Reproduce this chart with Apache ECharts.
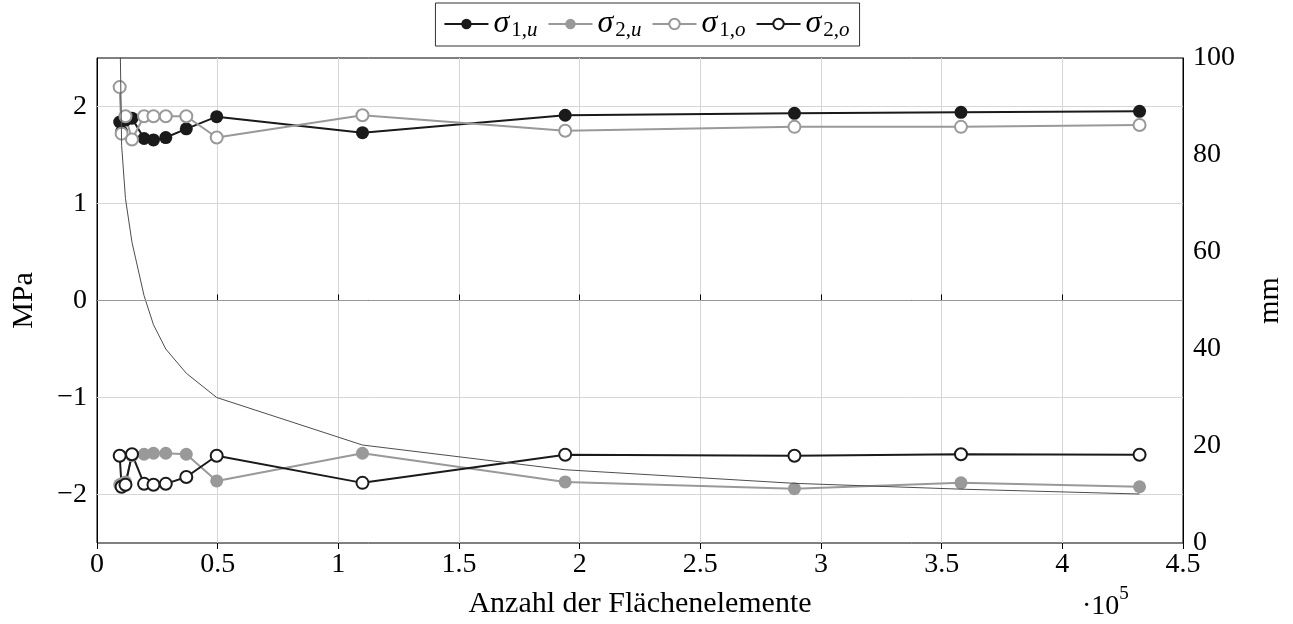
<!DOCTYPE html>
<html>
<head>
<meta charset="utf-8">
<script src="https://cdn.jsdelivr.net/npm/echarts@6/dist/echarts.min.js"></script>
<style>
  html, body { margin: 0; padding: 0; background: #fff; }
  #chart { width: 1293px; height: 624px; }
</style>
</head>
<body>
<div id="chart"></div>
<script>
// Anzahl der Flächenelemente (x 10^5)
const xVals = [0.094, 0.102, 0.118, 0.145, 0.195, 0.234, 0.285, 0.37, 0.496, 1.10, 1.94, 2.89, 3.58, 4.32];
// Spannungen in MPa
const s1u = [1.84, 1.74, 1.86, 1.88, 1.67, 1.655, 1.68, 1.77, 1.895, 1.73, 1.91, 1.93, 1.94, 1.95];
const s2u = [-1.90, -1.89, -1.87, -1.60, -1.585, -1.575, -1.575, -1.585, -1.86, -1.575, -1.87, -1.94, -1.88, -1.92];
const s1o = [2.20, 1.72, 1.90, 1.66, 1.90, 1.90, 1.90, 1.90, 1.68, 1.91, 1.75, 1.79, 1.79, 1.81];
const s2o = [-1.60, -1.92, -1.90, -1.585, -1.89, -1.90, -1.89, -1.82, -1.60, -1.88, -1.59, -1.60, -1.585, -1.59];
// Verschiebung in mm (rechte Achse)
const mmVals = [110, 82, 71, 62, 51, 45, 40, 35, 30, 20.2, 15.1, 12.3, 11.1, 10.1];
// Tick-Beschriftung linke Achse
const mpaTicks = [-2, -1, 0, 1, 2];

const legendNames = ['s1u', 's2u', 's1o', 's2o'];
const legendLabels = { s1u: ['1,', 'u'], s2u: ['2,', 'u'], s1o: ['1,', 'o'], s2o: ['2,', 'o'] };

const FONT = '"Liberation Serif", "DejaVu Serif", serif';
const pairs = (ys) => xVals.map((x, i) => [x, ys[i]]);

var myChart = echarts.init(document.getElementById('chart'));

const sigmaSeries = (name, ys, color, filled) => ({
  name: name,
  type: 'line',
  data: pairs(ys),
  symbol: 'circle',
  symbolSize: filled ? 13 : 12,
  showSymbol: true,
  lineStyle: { color: color, width: 2 },
  itemStyle: filled
    ? { color: color, borderColor: color, borderWidth: 0 }
    : { color: '#fff', borderColor: color, borderWidth: 2 },
  emphasis: { disabled: true },
  z: 3
});

var option = {
  animation: false,
  textStyle: { fontFamily: FONT, color: '#000' },
  grid: { left: 97, right: 105, top: 58, bottom: 80, show: true, borderColor: '#000', borderWidth: 1 },
  legend: {
    data: legendNames,
    top: 3,
    left: 'center',
    borderColor: '#333',
    borderWidth: 1,
    padding: [5, 10, 5, 8],
    itemGap: 10,
    itemWidth: 44,
    itemHeight: 13,
    formatter: function (n) {
      const l = legendLabels[n];
      return '{s|σ}{n|' + l[0] + '}{v|' + l[1] + '}';
    },
    textStyle: {
      rich: {
        s: { fontFamily: FONT, fontStyle: 'italic', fontSize: 32, lineHeight: 34, verticalAlign: 'middle' },
        n: { fontFamily: FONT, fontSize: 21, lineHeight: 34, verticalAlign: 'bottom', padding: [0, 0, 0, 2] },
        v: { fontFamily: FONT, fontStyle: 'italic', fontSize: 21, lineHeight: 34, verticalAlign: 'bottom' }
      }
    }
  },
  xAxis: [{
    type: 'value',
    min: 0,
    max: 4.5,
    interval: 0.5,
    name: 'Anzahl der Flächenelemente',
    nameLocation: 'middle',
    nameGap: 46,
    nameTextStyle: { fontFamily: FONT, fontSize: 30, color: '#000' },
    axisLine: { show: true, lineStyle: { color: '#000' } },
    axisTick: { show: true, inside: true, length: 6, lineStyle: { color: '#000' } },
    axisLabel: { fontFamily: FONT, fontSize: 28, color: '#000', margin: 8 },
    splitLine: { show: true, lineStyle: { color: '#d6d6d6', width: 1 } }
  }, {
    type: 'value',
    position: 'top',
    min: 0,
    max: 4.5,
    interval: 0.5,
    axisLine: { show: false },
    axisTick: { show: true, inside: true, length: 6, lineStyle: { color: '#000' } },
    axisLabel: { show: false },
    splitLine: { show: false }
  }],
  yAxis: [{
    type: 'value',
    position: 'left',
    min: -2.5,
    max: 2.5,
    interval: 0.5,
    name: 'MPa',
    nameLocation: 'middle',
    nameGap: 58,
    nameTextStyle: { fontFamily: FONT, fontSize: 30, color: '#000' },
    axisLine: { show: true, lineStyle: { color: '#000' } },
    axisTick: { show: false },
    minorTick: { show: false },
    axisLabel: {
      fontFamily: FONT, fontSize: 28, color: '#000', margin: 10,
      formatter: function (v) {
        return mpaTicks.indexOf(Math.round(v * 2) / 2) >= 0 ? String(Math.round(v)).replace('-', '\u2212') : '';
      }
    },
    splitLine: { show: false }
  }, {
    type: 'value',
    min: 0,
    max: 100,
    interval: 20,
    position: 'right',
    name: 'mm',
    nameLocation: 'middle',
    nameGap: 72,
    nameRotate: 90,
    nameTextStyle: { fontFamily: FONT, fontSize: 30, color: '#000' },
    axisLine: { show: true, onZero: false, lineStyle: { color: '#000' } },
    axisTick: { show: false },
    axisLabel: { fontFamily: FONT, fontSize: 28, color: '#000', margin: 10 },
    splitLine: { show: false }
  }],
  graphic: [{
    type: 'text',
    left: 1082,
    top: 585,
    style: {
      text: '{a|·10}{b|5}',
      rich: {
        a: { fontFamily: FONT, fontSize: 28, fill: '#000', lineHeight: 36, verticalAlign: 'bottom' },
        b: { fontFamily: FONT, fontSize: 19, fill: '#000', lineHeight: 36, verticalAlign: 'top' }
      }
    }
  }],
  series: [
    Object.assign(sigmaSeries('s1u', s1u, '#1a1a1a', true), {
      markLine: {
        silent: true,
        symbol: 'none',
        label: { show: false },
        lineStyle: { color: '#999', width: 1, type: 'solid' },
        data: [{ yAxis: 0 }]
      }
    }),
    Object.assign(sigmaSeries('s2u', s2u, '#999', true), {
      markLine: {
        silent: true,
        symbol: 'none',
        label: { show: false },
        lineStyle: { color: '#d6d6d6', width: 1, type: 'solid' },
        data: mpaTicks.filter(v => v !== 0).map(v => ({ yAxis: v })),
        z: 1
      }
    }),
    sigmaSeries('s1o', s1o, '#999', false),
    sigmaSeries('s2o', s2o, '#1a1a1a', false),
    {
      name: 'mm',
      type: 'line',
      yAxisIndex: 1,
      data: pairs(mmVals),
      showSymbol: false,
      symbol: 'none',
      lineStyle: { color: '#4d4d4d', width: 1 },
      emphasis: { disabled: true },
      z: 4
    }
  ]
};

myChart.setOption(option);
</script>
</body>
</html>
